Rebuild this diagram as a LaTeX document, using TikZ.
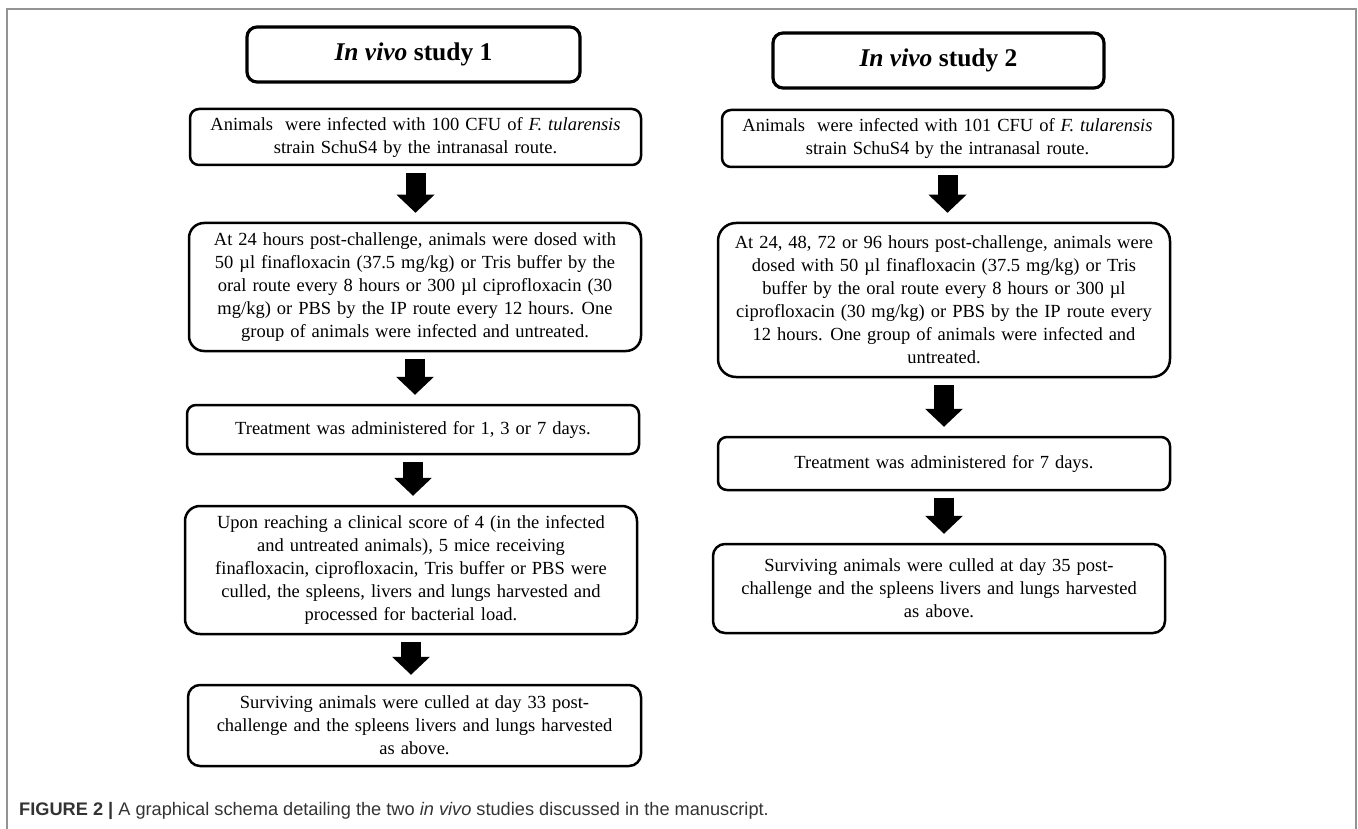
\documentclass[tikz,border=0pt]{standalone}
\usepackage{fontspec}
\setmainfont{Liberation Serif}
\newfontfamily\capfont{Liberation Sans}
\usetikzlibrary{arrows.meta}
\newcommand\boxfont{\fontsize{18.5}{23}\selectfont\spaceskip=6pt\relax}

\begin{document}
\begin{tikzpicture}[x=1pt,y=-1pt,
    box/.style={draw,line width=2.5pt,rounded corners=9pt,align=center,inner sep=0pt,
        font=\boxfont},
    headbox/.style={draw,line width=3.2pt,rounded corners=10pt,inner sep=0pt,
        minimum width=333pt,minimum height=55pt,font=\fontsize{25.5}{28}\bfseries\selectfont},
    down/.style={line width=20pt,-{Triangle[width=38pt,length=18pt,line width=0pt]},
        shorten <=7pt,shorten >=9pt}]
    \useasboundingbox (0,0) rectangle (1358,829);

    % frame
    \draw[gray!85,line width=2pt] (7,829) -- (7,9) -- (1356,9) -- (1356,829);

    % study 1
    \node[headbox] (head1) at (413.5,54.5) {\textit{In vivo} study 1};
    \node[box,minimum width=451pt,minimum height=56pt] (b1) at (415.5,137)
        {Animals \ were infected with 100 CFU of \textit{F. tularensis}\\
         strain SchuS4 by the intranasal route.};
    \node[box,rounded corners=15pt,minimum width=452pt,minimum height=128pt] (b2) at (415,287)
        {At 24 hours post-challenge, animals were dosed with\\
         50 µl finafloxacin (37.5 mg/kg) or Tris buffer by the\\
         oral route every 8 hours or 300 µl ciprofloxacin (30\\
         mg/kg) or PBS by the IP route every 12 hours. One\\
         group of animals were infected and untreated.};
    \node[box,minimum width=452pt,minimum height=49pt] (b3) at (413,429.5)
        {Treatment was administered for 1, 3 or 7 days.};
    \node[box,rounded corners=15pt,minimum width=452pt,minimum height=128pt] (b4) at (411,570)
        {Upon reaching a clinical score of 4 (in the infected\\
         and untreated animals), 5 mice receiving\\
         finafloxacin, ciprofloxacin, Tris buffer or PBS were\\
         culled, the spleens, livers and lungs harvested and\\
         processed for bacterial load.};
    \node[box,rounded corners=12pt,minimum width=453pt,minimum height=81pt] (b5) at (414.5,725.5)
        {Surviving animals were culled at day 33 post-\\
         challenge and the spleens livers and lungs harvested\\
         as above.};

    \draw[down] (b1.south) -- (b1.south |- b2.north);
    \draw[down] (b2.south) -- (b2.south |- b3.north);
    \draw[down] (b3.south) -- (b3.south |- b4.north);
    \draw[down] (b4.south) -- (b4.south |- b5.north);

    % study 2
    \node[headbox,minimum width=331pt] (head2) at (938.5,60.5) {\textit{In vivo} study 2};
    \node[box,minimum width=451pt,minimum height=57pt] (r1) at (947.5,138.5)
        {Animals \ were infected with 101 CFU of \textit{F. tularensis}\\
         strain SchuS4 by the intranasal route.};
    \node[box,rounded corners=18pt,minimum width=452pt,minimum height=154pt] (r2) at (944,300)
        {At 24, 48, 72 or 96 hours post-challenge, animals were\\
         dosed with 50 µl finafloxacin (37.5 mg/kg) or Tris\\
         buffer by the oral route every 8 hours or 300 µl\\
         ciprofloxacin (30 mg/kg) or PBS by the IP route every\\
         12 hours. One group of animals were infected and\\
         untreated.};
    \node[box,minimum width=452pt,minimum height=53pt] (r3) at (944,463.5)
        {Treatment was administered for 7 days.};
    \node[box,rounded corners=12pt,minimum width=452pt,minimum height=89pt] (r4) at (939,588.5)
        {Surviving animals were culled at day 35 post-\\
         challenge and the spleens livers and lungs harvested\\
         as above.};

    \draw[down] (r1.south) -- (r1.south |- r2.north);
    \draw[down] (r2.south) -- (r2.south |- r3.north);
    \draw[down] (r3.south) -- (r3.south |- r4.north);

    \node[anchor=base west,inner sep=0pt,text=black!80,font=\capfont\fontsize{18.2}{21}\selectfont]
        (caption) at (19,815)
        {\textbf{FIGURE 2 |} A graphical schema detailing the two \textit{in vivo} studies discussed in the manuscript.};
\end{tikzpicture}
\end{document}
